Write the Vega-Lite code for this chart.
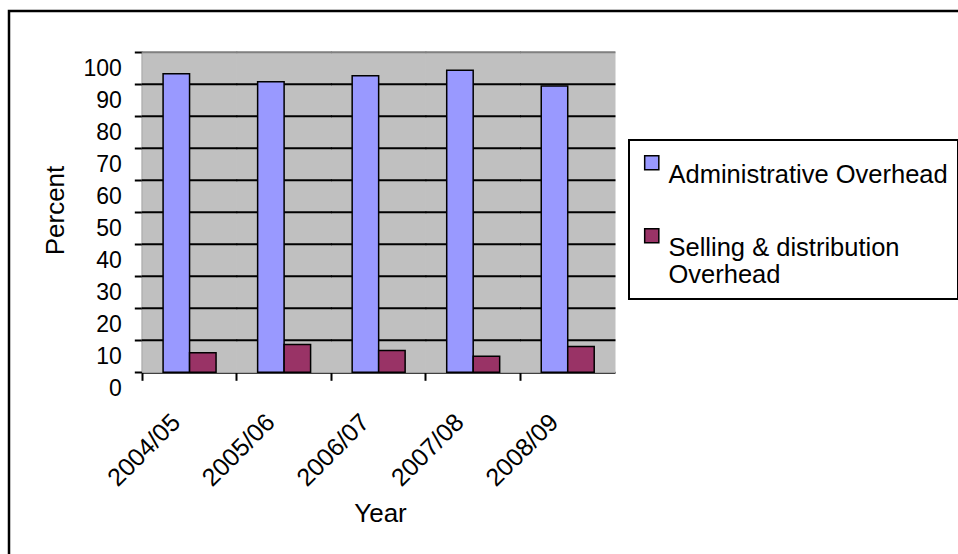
{
  "$schema": "https://vega.github.io/schema/vega-lite/v6.json",
  "width": 960,
  "height": 556,
  "autosize": {"type": "none"},
  "padding": {"left": 9, "top": 11, "right": -11, "bottom": -13},
  "background": "white",
  "config": {
    "font": "Liberation Sans",
    "view": {"stroke": "black", "strokeWidth": 2.5, "fill": "white"},
    "legend": {"strokeWidth": 2}
  },
  "datasets": {
    "overhead": [
      {"Year": "2004/05", "Series": "Administrative Overhead", "Percent": 93.3},
      {"Year": "2004/05", "Series": "Selling & distribution Overhead", "Percent": 6.1},
      {"Year": "2005/06", "Series": "Administrative Overhead", "Percent": 90.8},
      {"Year": "2005/06", "Series": "Selling & distribution Overhead", "Percent": 8.7},
      {"Year": "2006/07", "Series": "Administrative Overhead", "Percent": 92.7},
      {"Year": "2006/07", "Series": "Selling & distribution Overhead", "Percent": 6.8},
      {"Year": "2007/08", "Series": "Administrative Overhead", "Percent": 94.4},
      {"Year": "2007/08", "Series": "Selling & distribution Overhead", "Percent": 5.0},
      {"Year": "2008/09", "Series": "Administrative Overhead", "Percent": 89.5},
      {"Year": "2008/09", "Series": "Selling & distribution Overhead", "Percent": 8.1}
    ],
    "grid": [
      {"Year": "2004/05", "levels": [10, 20, 30, 40, 50, 60, 70, 80, 90]},
      {"Year": "2005/06", "levels": [10, 20, 30, 40, 50, 60, 70, 80, 90]},
      {"Year": "2006/07", "levels": [10, 20, 30, 40, 50, 60, 70, 80, 90]},
      {"Year": "2007/08", "levels": [10, 20, 30, 40, 50, 60, 70, 80, 90]},
      {"Year": "2008/09", "levels": [10, 20, 30, 40, 50, 60, 70, 80, 90]}
    ]
  },
  "layer": [
    {
      "data": {"name": "grid"},
      "mark": {"type": "bar", "color": "#C0C0C0", "stroke": "#C0C0C0", "strokeWidth": 1},
      "encoding": {
        "x": {"field": "Year", "type": "nominal"},
        "y": {"datum": 100, "type": "quantitative"},
        "y2": {"datum": 0}
      }
    },
    {
      "data": {"name": "grid"},
      "transform": [{"flatten": ["levels"], "as": ["level"]}],
      "mark": {"type": "tick", "color": "black", "thickness": 2, "size": 95.5, "orient": "horizontal", "opacity": 1},
      "encoding": {
        "x": {"field": "Year", "type": "nominal"},
        "y": {"field": "level", "type": "quantitative"}
      }
    },
    {
      "data": {"name": "grid"},
      "mark": {"type": "tick", "color": "#808080", "thickness": 2, "size": 95.5, "orient": "horizontal", "opacity": 1},
      "encoding": {
        "x": {"field": "Year", "type": "nominal"},
        "y": {"datum": 100, "type": "quantitative"}
      }
    },
    {
      "data": {"name": "overhead"},
      "mark": {"type": "bar", "stroke": "black", "strokeWidth": 1.5},
      "encoding": {
        "x": {
          "field": "Year",
          "type": "nominal",
          "scale": {
            "domain": ["2004/05", "2005/06", "2006/07", "2007/08", "2008/09"],
            "range": [133.3, 606],
            "paddingInner": 0,
            "paddingOuter": 0
          },
          "axis": {
            "title": "Year",
            "orient": "bottom",
            "offset": -194.7,
            "bandPosition": 0,
            "grid": false,
            "domainColor": "black",
            "domainWidth": 2,
            "tickColor": "black",
            "tickWidth": 2,
            "tickSize": 8,
            "labelAngle": -45,
            "labelAlign": "right",
            "labelBaseline": "top",
            "labelOffset": -22,
            "labelPadding": 29,
            "labelFontSize": 25,
            "labelColor": "black",
            "titleFontSize": 26,
            "titleFontWeight": "normal",
            "titleColor": "black",
            "titleX": 371,
            "titleY": 149,
            "titleAlign": "center",
            "titleBaseline": "alphabetic"
          }
        },
        "xOffset": {
          "field": "Series",
          "type": "nominal",
          "sort": ["Administrative Overhead", "Selling & distribution Overhead"],
          "scale": {"paddingInner": 0, "paddingOuter": 0.785}
        },
        "y": {
          "field": "Percent",
          "type": "quantitative",
          "scale": {"domain": [0, 100], "range": [361.3, 41.3], "nice": false},
          "axis": {
            "title": "Percent",
            "values": [0, 10, 20, 30, 40, 50, 60, 70, 80, 90, 100],
            "offset": -133.3,
            "grid": false,
            "domainColor": "black",
            "domainWidth": 2,
            "tickColor": "black",
            "tickWidth": 2,
            "tickSize": 8,
            "labelFontSize": 23,
            "labelColor": "black",
            "labelPadding": 13,
            "labelBaseline": "middle",
            "labelOffset": 16,
            "titleFontSize": 26,
            "titleFontWeight": "normal",
            "titleColor": "black",
            "titleAngle": -90,
            "titleX": -79,
            "titleY": 199,
            "titleAlign": "center",
            "titleBaseline": "alphabetic"
          }
        },
        "color": {
          "field": "Series",
          "type": "nominal",
          "scale": {
            "domain": ["Administrative Overhead", "Selling & distribution Overhead"],
            "range": ["#9999FF", "#993366"]
          },
          "legend": {
            "title": null,
            "orient": "none",
            "legendX": 620,
            "legendY": 129,
            "symbolType": "square",
            "symbolSize": 200,
            "symbolStrokeColor": "black",
            "symbolStrokeWidth": 1.5,
            "symbolOpacity": 1,
            "labelFontSize": 25.5,
            "labelColor": "black",
            "labelBaseline": "top",
            "labelOffset": 4,
            "labelLimit": 600,
            "labelExpr": "datum.label == 'Selling & distribution Overhead' ? ['Selling & distribution', 'Overhead'] : datum.label + '      '",
            "strokeColor": "black",
            "padding": 10,
            "rowPadding": 34,
            "fillColor": "white"
          }
        }
      }
    }
  ]
}
